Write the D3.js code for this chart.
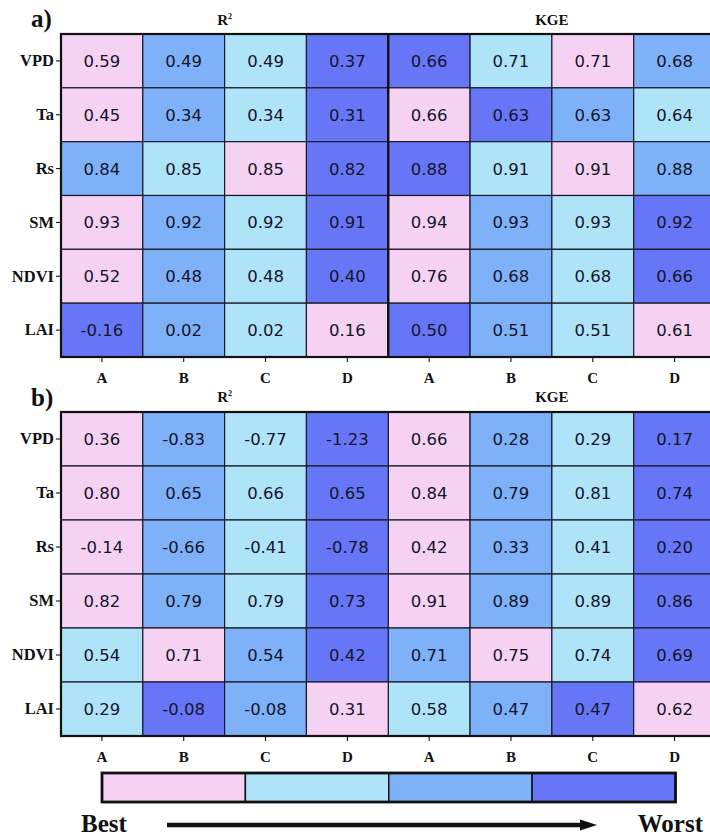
<!DOCTYPE html>
<html>
<head>
<meta charset="utf-8">
<script src="https://cdn.jsdelivr.net/npm/d3@7"></script>
<style>
  html, body { margin: 0; padding: 0; background: #fff; overflow: hidden; }
  svg { display: block; }
</style>
</head>
<body>
<svg id="chart" width="710" height="838"></svg>
<script>
// Variables (rows), models (columns) and the two metrics
const variables = ["VPD", "Ta", "Rs", "SM", "NDVI", "LAI"];
const models = ["A", "B", "C", "D"];
const metrics = ["R", "KGE"];

// Panel a) scores
const aR2 = [
  [0.59, 0.49, 0.49, 0.37],
  [0.45, 0.34, 0.34, 0.31],
  [0.84, 0.85, 0.85, 0.82],
  [0.93, 0.92, 0.92, 0.91],
  [0.52, 0.48, 0.48, 0.40],
  [-0.16, 0.02, 0.02, 0.16]
];
const aKGE = [
  [0.66, 0.71, 0.71, 0.68],
  [0.66, 0.63, 0.63, 0.64],
  [0.88, 0.91, 0.91, 0.88],
  [0.94, 0.93, 0.93, 0.92],
  [0.76, 0.68, 0.68, 0.66],
  [0.50, 0.51, 0.51, 0.61]
];
// Panel a) ranks (0 = best ... 3 = worst)
const aR2Rank = [
  [0, 2, 1, 3],
  [0, 2, 1, 3],
  [2, 1, 0, 3],
  [0, 2, 1, 3],
  [0, 2, 1, 3],
  [3, 2, 1, 0]
];
const aKGERank = [
  [3, 1, 0, 2],
  [0, 3, 2, 1],
  [3, 1, 0, 2],
  [0, 2, 1, 3],
  [0, 2, 1, 3],
  [3, 2, 1, 0]
];

// Panel b) scores
const bR2 = [
  [0.36, -0.83, -0.77, -1.23],
  [0.80, 0.65, 0.66, 0.65],
  [-0.14, -0.66, -0.41, -0.78],
  [0.82, 0.79, 0.79, 0.73],
  [0.54, 0.71, 0.54, 0.42],
  [0.29, -0.08, -0.08, 0.31]
];
const bKGE = [
  [0.66, 0.28, 0.29, 0.17],
  [0.84, 0.79, 0.81, 0.74],
  [0.42, 0.33, 0.41, 0.20],
  [0.91, 0.89, 0.89, 0.86],
  [0.71, 0.75, 0.74, 0.69],
  [0.58, 0.47, 0.47, 0.62]
];
const bR2Rank = [
  [0, 2, 1, 3],
  [0, 2, 1, 3],
  [0, 2, 1, 3],
  [0, 2, 1, 3],
  [1, 0, 2, 3],
  [1, 3, 2, 0]
];
const bKGERank = [
  [0, 2, 1, 3],
  [0, 2, 1, 3],
  [0, 2, 1, 3],
  [0, 2, 1, 3],
  [2, 0, 1, 3],
  [1, 2, 3, 0]
];

// Rank colours, best to worst
const rankColors = ["#f6d2f2", "#afe3f8", "#7eb1f8", "#6676f6"];
const legendLabels = ["Best", "Worst"];

const svg = d3.select("#chart");
const serif = "'Liberation Serif', 'Times New Roman', serif";
const sans = "'DejaVu Sans', sans-serif";

const left = 61, right = 715.5;
const columns = d3.cross(metrics, models).map(([m, k]) => m + "|" + k);
const x = d3.scaleBand().domain(columns).range([left, right]);
const color = d3.scaleOrdinal().domain([0, 1, 2, 3]).range(rankColors);
// Plain hyphen-minus for negative values
const fmt = d3.formatLocale({ decimal: ".", thousands: ",", grouping: [3], currency: ["", ""], minus: "-" }).format(".2f");

function drawPanel(tag, top, bottom, r2, kge, r2Rank, kgeRank, titleY, tagY, thickDivider) {
  const g = svg.append("g");
  const y = d3.scaleBand().domain(variables).range([top, bottom]);

  const cells = [];
  variables.forEach((v, i) => {
    models.forEach((m, j) => {
      cells.push({ v, col: metrics[0] + "|" + m, value: r2[i][j], rank: r2Rank[i][j] });
      cells.push({ v, col: metrics[1] + "|" + m, value: kge[i][j], rank: kgeRank[i][j] });
    });
  });

  g.selectAll("rect.cell").data(cells).join("rect")
    .attr("class", "cell")
    .attr("x", d => x(d.col))
    .attr("y", d => y(d.v))
    .attr("width", x.bandwidth())
    .attr("height", y.bandwidth())
    .attr("fill", d => color(d.rank))
    .attr("stroke", "#1b1b2a")
    .attr("stroke-width", 1.2);

  g.selectAll("text.val").data(cells).join("text")
    .attr("class", "val")
    .attr("x", d => x(d.col) + x.bandwidth() / 2)
    .attr("y", d => y(d.v) + y.bandwidth() / 2)
    .attr("dy", "0.36em")
    .attr("text-anchor", "middle")
    .attr("font-family", sans)
    .attr("font-size", 16.5)
    .attr("fill", "#15152a")
    .text(d => fmt(d.value));

  // Frame around the grid
  g.append("rect")
    .attr("x", left).attr("y", top)
    .attr("width", right - left).attr("height", bottom - top)
    .attr("fill", "none").attr("stroke", "#111").attr("stroke-width", 2.2);

  if (thickDivider) {
    const xd = x(metrics[1] + "|" + models[0]);
    g.append("line")
      .attr("x1", xd).attr("x2", xd).attr("y1", top).attr("y2", bottom)
      .attr("stroke", "#111").attr("stroke-width", 2.4);
  }

  // Axes
  const ya = g.append("g").attr("transform", `translate(${left},0)`)
    .call(d3.axisLeft(y).tickSize(5).tickPadding(2));
  ya.select(".domain").remove();
  ya.selectAll("text").attr("font-family", serif).attr("font-weight", "bold")
    .attr("font-size", 16.5).attr("fill", "#111");

  const xa = g.append("g").attr("transform", `translate(0,${bottom})`)
    .call(d3.axisBottom(x).tickSize(5).tickPadding(10).tickFormat(d => d.split("|")[1]));
  xa.select(".domain").remove();
  xa.selectAll("text").attr("font-family", serif).attr("font-weight", "bold")
    .attr("font-size", 15).attr("fill", "#111");

  // Metric titles
  metrics.forEach(m => {
    const x0 = x(m + "|" + models[0]);
    const x1 = x(m + "|" + models[models.length - 1]) + x.bandwidth();
    const t = g.append("text")
      .attr("x", (x0 + x1) / 2)
      .attr("y", titleY)
      .attr("text-anchor", "middle")
      .attr("font-family", serif).attr("font-weight", "bold")
      .attr("font-size", 15).attr("fill", "#111");
    t.append("tspan").text(m);
    if (m === "R") {
      t.append("tspan").attr("font-size", 8).attr("dy", -6).text("2");
    }
  });

  // Panel tag
  g.append("text")
    .attr("x", 31).attr("y", tagY)
    .attr("font-family", serif).attr("font-weight", "bold")
    .attr("font-size", 25).attr("fill", "#111")
    .text(tag);
}

drawPanel("a)", 34, 357, aR2, aKGE, aR2Rank, aKGERank, 25, 27, true);
drawPanel("b)", 412, 736, bR2, bKGE, bR2Rank, bKGERank, 402, 406, false);

// Colour legend bar
const lx = d3.scaleBand().domain(d3.range(rankColors.length)).range([102, 675.5]);
const legend = svg.append("g");
legend.selectAll("rect").data(d3.range(rankColors.length)).join("rect")
  .attr("x", d => lx(d)).attr("y", 773)
  .attr("width", lx.bandwidth()).attr("height", 29)
  .attr("fill", d => rankColors[d])
  .attr("stroke", "#111").attr("stroke-width", 1.5);
legend.append("rect")
  .attr("x", 102).attr("y", 773).attr("width", 573.5).attr("height", 29)
  .attr("fill", "none").attr("stroke", "#111").attr("stroke-width", 2.8);

// Best -> Worst arrow
legend.append("text")
  .attr("x", 81).attr("y", 832)
  .attr("font-family", serif).attr("font-weight", "bold")
  .attr("font-size", 25).attr("fill", "#111")
  .text(legendLabels[0]);
legend.append("text")
  .attr("x", 703).attr("y", 832).attr("text-anchor", "end")
  .attr("font-family", serif).attr("font-weight", "bold")
  .attr("font-size", 25).attr("fill", "#111")
  .text(legendLabels[1]);
legend.append("line")
  .attr("x1", 167).attr("x2", 582).attr("y1", 825).attr("y2", 825)
  .attr("stroke", "#111").attr("stroke-width", 4.5);
legend.append("path")
  .attr("d", "M580,819.5 L597,825 L580,830.5 Z")
  .attr("fill", "#111");
</script>
</body>
</html>
